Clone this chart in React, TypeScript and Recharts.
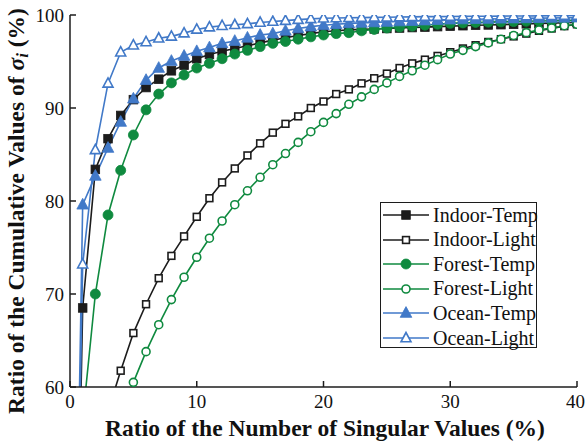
import { LineChart, Line, XAxis, YAxis } from 'recharts';

// x positions: ratio of the number of singular values (%)
const ratios = [
  0, 1, 2, 3, 4, 5, 6, 7, 8, 9, 10, 11, 12, 13, 14, 15, 16, 17, 18, 19, 20,
  21, 22, 23, 24, 25, 26, 27, 28, 29, 30, 31, 32, 33, 34, 35, 36, 37, 38, 39, 40,
];

const indoorTemp = [
  0, 68.5, 83.4, 86.7, 89.2, 90.9, 92.2, 93.1, 94.0, 94.6, 95.3, 95.75, 96.1, 96.4, 96.7, 97.0, 97.3, 97.55, 97.8, 98.0, 98.2,
  98.3, 98.4, 98.45, 98.5, 98.55, 98.6, 98.65, 98.7, 98.75, 98.8, 98.85, 98.9, 98.93, 98.96, 99.0, 99.05, 99.1, 99.13, 99.16, 99.2,
];
const indoorLight = [
  null, null, null, 57.4, 61.75, 65.8, 68.9, 71.7, 74.1, 76.2, 78.3, 80.3, 82.0, 83.5, 84.9, 86.2, 87.35, 88.3, 89.1, 90.0, 90.7,
  91.5, 92.0, 92.65, 93.2, 93.7, 94.3, 94.8, 95.2, 95.6, 96.0, 96.4, 96.75, 97.1, 97.4, 97.7, 98.0, 98.3, 98.55, 98.8, 99.0,
];
const forestTemp = [
  0, 56.5, 70.0, 78.5, 83.3, 87.1, 89.8, 91.5, 92.7, 93.55, 94.3, 94.8, 95.3, 95.8, 96.2, 96.6, 96.95, 97.15, 97.4, 97.65, 97.85,
  98.0, 98.1, 98.3, 98.45, 98.6, 98.7, 98.8, 98.9, 99.0, 99.1, 99.15, 99.2, 99.23, 99.26, 99.29, 99.32, 99.35, 99.38, 99.4, 99.43,
];
const forestLight = [
  null, null, null, null, 57.0, 60.5, 63.8, 66.7, 69.4, 71.8, 73.95, 76.0, 77.85, 79.6, 81.1, 82.55, 83.9, 85.1, 86.3, 87.45, 88.45,
  89.4, 90.4, 91.2, 92.0, 92.7, 93.4, 94.0, 94.6, 95.2, 95.8, 96.2, 96.6, 97.0, 97.4, 97.8, 98.1, 98.4, 98.6, 98.85, 99.0,
];
const oceanTemp = [
  0, 79.6, 82.7, 85.7, 88.5, 91.0, 93.0, 94.3, 95.05, 95.6, 96.1, 96.5, 96.95, 97.2, 97.55, 97.85, 98.0, 98.3, 98.55, 98.75, 98.9,
  99.0, 99.1, 99.15, 99.2, 99.25, 99.3, 99.35, 99.4, 99.45, 99.5, 99.52, 99.55, 99.57, 99.6, 99.62, 99.64, 99.66, 99.68, 99.7, 99.72,
];
const oceanLight = [
  0, 73.2, 85.5, 92.65, 96.0, 96.75, 97.1, 97.5, 97.7, 98.05, 98.45, 98.7, 98.85, 98.95, 99.05, 99.2, 99.3, 99.4, 99.5, 99.58, 99.65,
  99.68, 99.7, 99.72, 99.74, 99.76, 99.78, 99.8, 99.82, 99.83, 99.84, 99.85, 99.86, 99.87, 99.88, 99.89, 99.9, 99.91, 99.92, 99.93, 99.94,
];

const xTicks = [0, 10, 20, 30, 40];
const yTicks = [60, 70, 80, 90, 100];

const BLACK = '#1c1c1c';
const GREEN = '#0f8a3f';
const BLUE = '#4179c8';
const FONT = '"Liberation Serif", "Times New Roman", serif';

type Shape = 'square' | 'circle' | 'triangle';

const seriesDefs: { key: string; name: string; color: string; shape: Shape; filled: boolean; values: (number | null)[] }[] = [
  { key: 'it', name: 'Indoor-Temp', color: BLACK, shape: 'square', filled: true, values: indoorTemp },
  { key: 'il', name: 'Indoor-Light', color: BLACK, shape: 'square', filled: false, values: indoorLight },
  { key: 'ft', name: 'Forest-Temp', color: GREEN, shape: 'circle', filled: true, values: forestTemp },
  { key: 'fl', name: 'Forest-Light', color: GREEN, shape: 'circle', filled: false, values: forestLight },
  { key: 'ot', name: 'Ocean-Temp', color: BLUE, shape: 'triangle', filled: true, values: oceanTemp },
  { key: 'ol', name: 'Ocean-Light', color: BLUE, shape: 'triangle', filled: false, values: oceanLight },
];

const rows = ratios.map((x, i) => {
  const r: Record<string, number | null> = { x };
  seriesDefs.forEach((s) => (r[s.key] = s.values[i]));
  return r;
});

const Marker = ({ cx, cy, shape, color, filled }: { cx: number; cy: number; shape: Shape; color: string; filled: boolean }) => {
  const fill = filled ? color : '#fff';
  const sw = filled ? 0.8 : 1.6;
  if (shape === 'square') {
    const h = filled ? 4.3 : 3.4;
    return <rect x={cx - h} y={cy - h} width={h * 2} height={h * 2} fill={fill} stroke={color} strokeWidth={sw} />;
  }
  if (shape === 'circle') {
    const r = filled ? 5 : 4;
    return <circle cx={cx} cy={cy} r={r} fill={fill} stroke={color} strokeWidth={sw} />;
  }
  const w = filled ? 5.8 : 5;
  const pts = `${cx},${cy - w * 1.1} ${cx - w},${cy + w * 0.75} ${cx + w},${cy + w * 0.75}`;
  return <polygon points={pts} fill={fill} stroke={color} strokeWidth={sw} strokeLinejoin="miter" />;
};

const makeDot = (shape: Shape, color: string, filled: boolean) => (props: any) => {
  const { cx, cy, index, value } = props;
  if (cx == null || cy == null || value == null) return <g key={`d-${index}`} />;
  return (
    <g key={`d-${index}`}>
      <Marker cx={cx} cy={cy} shape={shape} color={color} filled={filled} />
    </g>
  );
};

const YTitle = () => (
  <text
    transform="translate(24,211) rotate(-90)"
    textAnchor="middle"
    fontFamily={FONT}
    fontWeight="bold"
    fontSize={23.5}
    fill="#111"
  >
    Ratio of the Cumulative Values of <tspan fontStyle="italic">σ</tspan>
    <tspan fontStyle="italic" fontSize={17} dy={4}>i</tspan>
    <tspan dy={-4}> (%)</tspan>
  </text>
);

const XTitle = () => (
  <text x={325} y={436} textAnchor="middle" fontFamily={FONT} fontWeight="bold" fontSize={23.5} fill="#111">
    Ratio of the Number of Singular Values (%)
  </text>
);

const LegendBox = () => (
  <div
    style={{
      position: 'absolute',
      left: 380,
      top: 202,
      width: 157,
      height: 146,
      border: `1px solid ${BLACK}`,
      background: '#fff',
      boxSizing: 'border-box',
    }}
  >
    {seriesDefs.map((s, i) => (
      <div key={s.key} style={{ position: 'absolute', left: 0, top: 1 + i * 24.6, height: 22, display: 'flex', alignItems: 'center' }}>
        <svg width={50} height={22}>
          <line x1={2} y1={11} x2={48} y2={11} stroke={s.color} strokeWidth={1.6} />
          <Marker cx={25} cy={11} shape={s.shape} color={s.color} filled={s.filled} />
        </svg>
        <span style={{ fontFamily: FONT, fontSize: 20, color: '#111', marginLeft: 2, whiteSpace: 'nowrap' }}>{s.name}</span>
      </div>
    ))}
  </div>
);

const tickStyle = { fontFamily: FONT, fontSize: 19, fill: '#111' };

export default function App() {
  return (
    <div style={{ position: 'absolute', left: 0, top: 0, width: 585, height: 444, background: '#fff' }}>
      <LineChart width={585} height={444} data={rows} margin={{ top: 15, right: 8, left: 0, bottom: 0 }}>
        <XAxis
          dataKey="x"
          type="number"
          domain={[0, 40]}
          ticks={xTicks}
          allowDataOverflow
          height={57}
          tickSize={-6}
          tickMargin={14}
          tick={tickStyle}
          stroke={BLACK}
          strokeWidth={1.5}
          label={<XTitle />}
        />
        <XAxis
          xAxisId="top"
          orientation="top"
          type="number"
          domain={[0, 40]}
          ticks={xTicks}
          height={0}
          tickSize={-6}
          tickFormatter={() => ''}
          stroke={BLACK}
          strokeWidth={1.5}
        />
        <YAxis
          type="number"
          domain={[60, 100]}
          ticks={yTicks}
          allowDataOverflow
          width={70}
          tickSize={-6}
          tickMargin={12}
          tick={tickStyle}
          stroke={BLACK}
          strokeWidth={1.5}
          label={<YTitle />}
        />
        <YAxis
          yAxisId="right"
          orientation="right"
          type="number"
          domain={[60, 100]}
          ticks={yTicks}
          width={0}
          tickSize={-6}
          tickFormatter={() => ''}
          stroke={BLACK}
          strokeWidth={1.5}
        />
        {seriesDefs.map((s) => (
          <Line
            key={s.key}
            dataKey={s.key}
            name={s.name}
            type="linear"
            stroke={s.color}
            strokeWidth={1.6}
            dot={makeDot(s.shape, s.color, s.filled)}
            activeDot={false}
            isAnimationActive={false}
          />
        ))}
      </LineChart>
      <LegendBox />
    </div>
  );
}
